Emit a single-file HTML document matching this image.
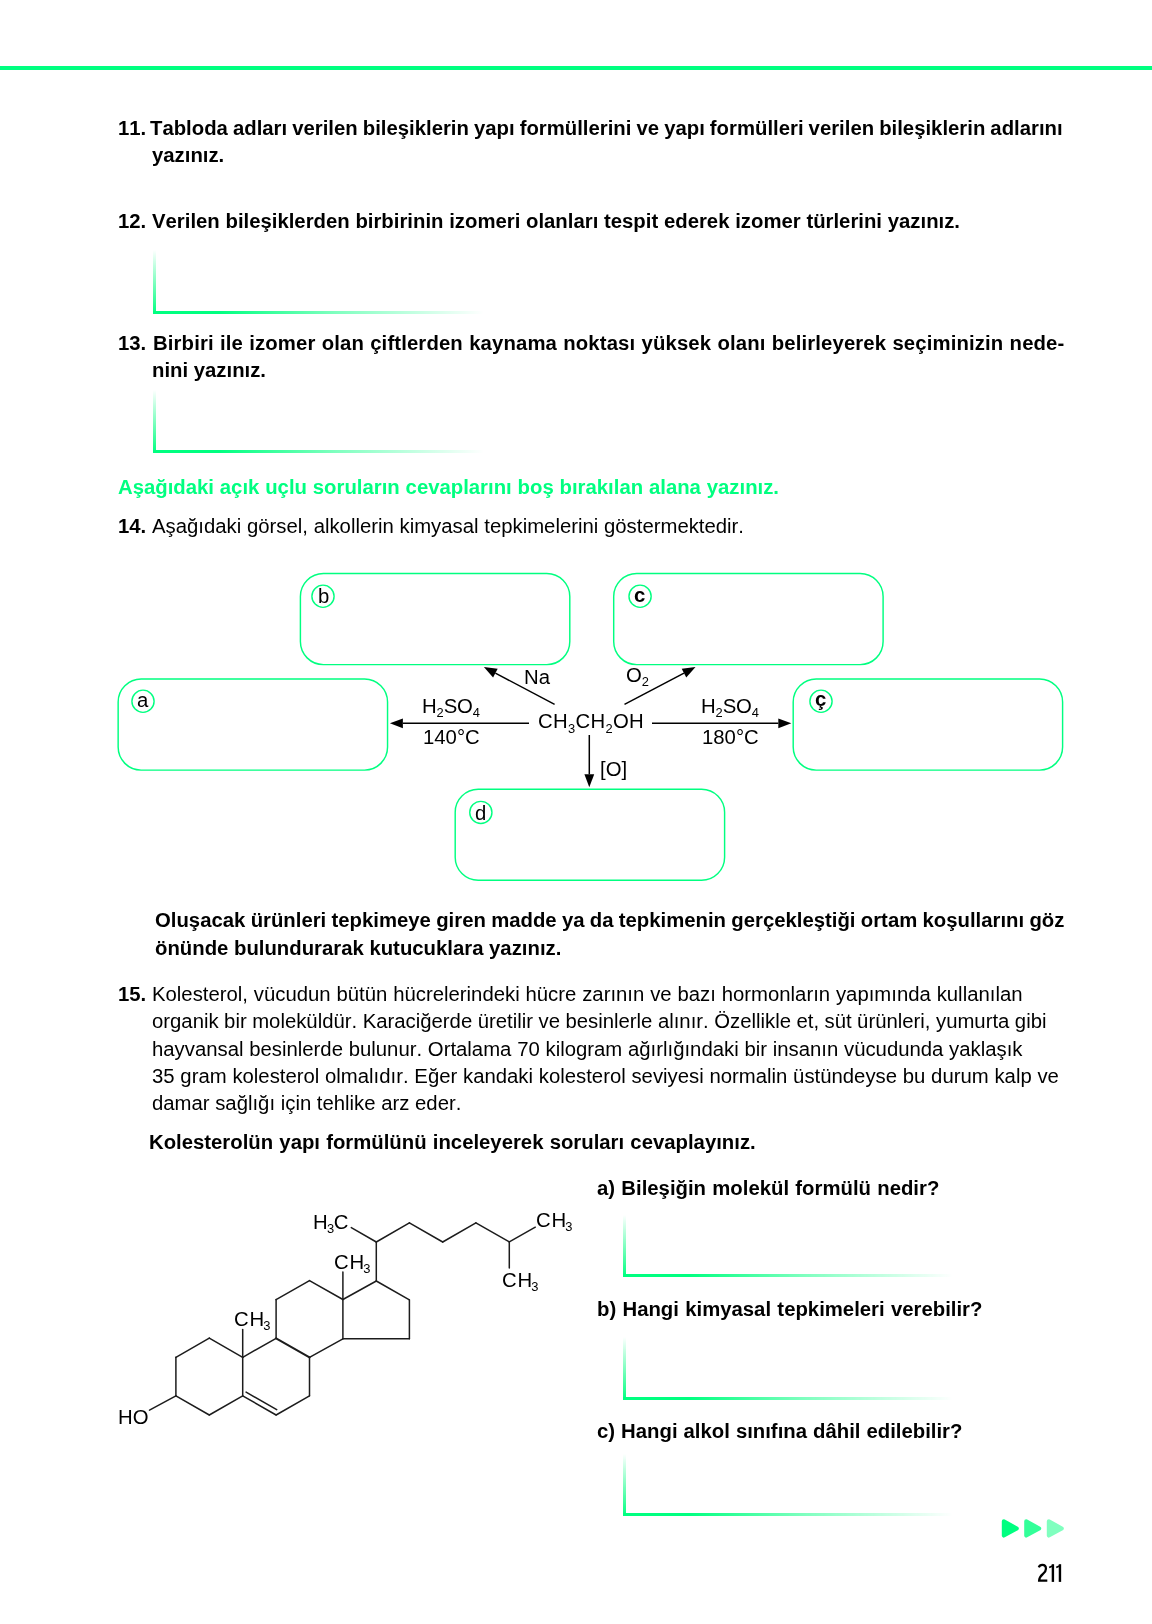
<!DOCTYPE html>
<html><head><meta charset="utf-8"><title>211</title>
<style>
html,body{margin:0;padding:0;background:#fff;}
body{font-kerning:none;width:1152px;height:1624px;position:relative;overflow:hidden;font-family:"Liberation Sans",sans-serif;color:#000;}
.t{position:absolute;white-space:nowrap;line-height:24px;will-change:transform;}
.ab{position:absolute;}
svg{position:absolute;left:0;top:0;}
</style></head><body>
<div class="ab" style="left:0;top:66px;width:1152px;height:4px;background:#00ff80"></div>
<div class="t" style="left:117.90px;top:116px;font-size:20.32px;font-weight:bold;">11.</div>
<div class="t" style="left:150.00px;top:116px;font-size:20.32px;font-weight:bold;word-spacing:-0.573px;">Tabloda adları verilen bileşiklerin yapı formüllerini ve yapı formülleri verilen bileşiklerin adlarını</div>
<div class="t" style="left:151.90px;top:143px;font-size:20.32px;font-weight:bold;">yazınız.</div>
<div class="t" style="left:117.90px;top:209px;font-size:20.32px;font-weight:bold;">12.</div>
<div class="t" style="left:152.30px;top:209px;font-size:20.32px;font-weight:bold;word-spacing:0.099px;">Verilen bileşiklerden birbirinin izomeri olanları tespit ederek izomer türlerini yazınız.</div>
<div class="t" style="left:117.90px;top:331px;font-size:20.32px;font-weight:bold;">13.</div>
<div class="t" style="left:153.30px;top:331px;font-size:20.32px;font-weight:bold;letter-spacing:0.13px;word-spacing:0.465px;">Birbiri ile izomer olan çiftlerden kaynama noktası yüksek olanı belirleyerek seçiminizin nede-</div>
<div class="t" style="left:151.90px;top:358px;font-size:20.32px;font-weight:bold;">nini yazınız.</div>
<div class="ab" style="left:153px;top:250px;width:3px;height:64px;background:linear-gradient(to top,#00ff80 0%,rgba(0,255,128,0.55) 45%,rgba(0,255,128,0) 100%)"></div>
<div class="ab" style="left:153px;top:310.5px;width:331px;height:3.5px;background:linear-gradient(to right,#00ff80 0%,#00ff80 20%,rgba(0,255,128,0.5) 55%,rgba(0,255,128,0) 100%)"></div>
<div class="ab" style="left:153px;top:390px;width:3px;height:63px;background:linear-gradient(to top,#00ff80 0%,rgba(0,255,128,0.55) 45%,rgba(0,255,128,0) 100%)"></div>
<div class="ab" style="left:153px;top:449.5px;width:331px;height:3.5px;background:linear-gradient(to right,#00ff80 0%,#00ff80 20%,rgba(0,255,128,0.5) 55%,rgba(0,255,128,0) 100%)"></div>
<div class="t" style="left:118.00px;top:475px;font-size:20.32px;font-weight:bold;color:#00ff80;word-spacing:0.213px;">Aşağıdaki açık uçlu soruların cevaplarını boş bırakılan alana yazınız.</div>
<div class="t" style="left:117.90px;top:514px;font-size:20.32px;font-weight:bold;">14.</div>
<div class="t" style="left:152.20px;top:514px;font-size:20.32px;word-spacing:0.087px;">Aşağıdaki görsel, alkollerin kimyasal tepkimelerini göstermektedir.</div>
<svg width="1152" height="1624" viewBox="0 0 1152 1624">
<rect x="118.15" y="679.0" width="269.4" height="91.1" rx="23" ry="23" fill="none" stroke="#00ff80" stroke-width="1.45"/>
<rect x="300.4" y="573.5" width="269.4" height="91.1" rx="23" ry="23" fill="none" stroke="#00ff80" stroke-width="1.45"/>
<rect x="613.7" y="573.5" width="269.4" height="91.1" rx="23" ry="23" fill="none" stroke="#00ff80" stroke-width="1.45"/>
<rect x="793.2" y="679.0" width="269.4" height="91.1" rx="23" ry="23" fill="none" stroke="#00ff80" stroke-width="1.45"/>
<rect x="455.2" y="789.2" width="269.4" height="91.1" rx="23" ry="23" fill="none" stroke="#00ff80" stroke-width="1.45"/>
<circle cx="143.0" cy="701.25" r="11.1" fill="none" stroke="#00ff80" stroke-width="1.4"/>
<circle cx="323.0" cy="596.25" r="11.1" fill="none" stroke="#00ff80" stroke-width="1.4"/>
<circle cx="640.07" cy="596.25" r="11.1" fill="none" stroke="#00ff80" stroke-width="1.4"/>
<circle cx="821.0" cy="701.25" r="11.1" fill="none" stroke="#00ff80" stroke-width="1.4"/>
<circle cx="480.85" cy="812.45" r="11.1" fill="none" stroke="#00ff80" stroke-width="1.4"/>
<line x1="529.00" y1="723.30" x2="402.90" y2="723.30" stroke="#000" stroke-width="1.5"/>
<polygon points="389.90,723.30 402.90,718.40 402.90,728.20" fill="#000"/>
<line x1="652.00" y1="723.30" x2="778.30" y2="723.30" stroke="#000" stroke-width="1.5"/>
<polygon points="791.30,723.30 778.30,728.20 778.30,718.40" fill="#000"/>
<line x1="589.30" y1="735.00" x2="589.30" y2="774.30" stroke="#000" stroke-width="1.5"/>
<polygon points="589.30,787.30 584.40,774.30 594.20,774.30" fill="#000"/>
<line x1="554.60" y1="704.40" x2="495.39" y2="673.08" stroke="#000" stroke-width="1.5"/>
<polygon points="483.90,667.00 497.68,668.75 493.10,677.41" fill="#000"/>
<line x1="624.50" y1="704.40" x2="684.00" y2="673.06" stroke="#000" stroke-width="1.5"/>
<polygon points="695.50,667.00 686.28,677.39 681.71,668.72" fill="#000"/>
</svg>
<div class="t" style="left:537.80px;top:709px;font-size:20.32px;letter-spacing:0.3px;">CH<span style="font-size:12.9px;position:relative;top:4.9px;line-height:0;">3</span>CH<span style="font-size:12.9px;position:relative;top:4.9px;line-height:0;">2</span>OH</div>
<div class="t" style="left:422.40px;top:694px;font-size:20.32px;letter-spacing:-0.1px;">H<span style="font-size:12.9px;position:relative;top:4.3px;line-height:0;">2</span>SO<span style="font-size:12.9px;position:relative;top:4.3px;line-height:0;">4</span></div>
<div class="t" style="left:422.70px;top:725px;font-size:20.32px;">140°C</div>
<div class="t" style="left:701.20px;top:694px;font-size:20.32px;letter-spacing:-0.1px;">H<span style="font-size:12.9px;position:relative;top:4.3px;line-height:0;">2</span>SO<span style="font-size:12.9px;position:relative;top:4.3px;line-height:0;">4</span></div>
<div class="t" style="left:701.50px;top:725px;font-size:20.32px;">180°C</div>
<div class="t" style="left:523.90px;top:665px;font-size:20.32px;">Na</div>
<div class="t" style="left:625.80px;top:663px;font-size:20.32px;">O<span style="font-size:12.9px;position:relative;top:4.3px;line-height:0;">2</span></div>
<div class="t" style="left:599.80px;top:757px;font-size:20.32px;">[O]</div>
<div class="t" style="left:137.20px;top:688px;font-size:20.32px;">a</div>
<div class="t" style="left:317.70px;top:584px;font-size:20.32px;">b</div>
<div class="t" style="left:634.40px;top:583px;font-size:20.32px;font-weight:bold;">c</div>
<div class="t" style="left:814.90px;top:687px;font-size:20.32px;font-weight:bold;">ç</div>
<div class="t" style="left:474.80px;top:801px;font-size:20.32px;">d</div>
<div class="t" style="left:154.80px;top:908px;font-size:20.32px;font-weight:bold;word-spacing:-0.350px;">Oluşacak ürünleri tepkimeye giren madde ya da tepkimenin gerçekleştiği ortam koşullarını göz</div>
<div class="t" style="left:154.80px;top:936px;font-size:20.32px;font-weight:bold;">önünde bulundurarak kutucuklara yazınız.</div>
<div class="t" style="left:117.90px;top:982px;font-size:20.32px;font-weight:bold;">15.</div>
<div class="t" style="left:152.10px;top:982px;font-size:20.32px;word-spacing:0.219px;">Kolesterol, vücudun bütün hücrelerindeki hücre zarının ve bazı hormonların yapımında kullanılan</div>
<div class="t" style="left:152.10px;top:1009px;font-size:20.32px;word-spacing:-0.147px;">organik bir moleküldür. Karaciğerde üretilir ve besinlerle alınır. Özellikle et, süt ürünleri, yumurta gibi</div>
<div class="t" style="left:152.10px;top:1037px;font-size:20.32px;word-spacing:0.108px;">hayvansal besinlerde bulunur. Ortalama 70 kilogram ağırlığındaki bir insanın vücudunda yaklaşık</div>
<div class="t" style="left:152.10px;top:1064px;font-size:20.32px;word-spacing:0.109px;">35 gram kolesterol olmalıdır. Eğer kandaki kolesterol seviyesi normalin üstündeyse bu durum kalp ve</div>
<div class="t" style="left:152.10px;top:1091px;font-size:20.32px;">damar sağlığı için tehlike arz eder.</div>
<div class="t" style="left:148.60px;top:1130px;font-size:20.32px;font-weight:bold;word-spacing:0.552px;">Kolesterolün yapı formülünü inceleyerek soruları cevaplayınız.</div>
<div class="t" style="left:596.90px;top:1176px;font-size:20.32px;font-weight:bold;word-spacing:0.645px;">a) Bileşiğin molekül formülü nedir?</div>
<div class="t" style="left:596.90px;top:1297px;font-size:20.32px;font-weight:bold;word-spacing:0.670px;">b) Hangi kimyasal tepkimeleri verebilir?</div>
<div class="t" style="left:596.90px;top:1419px;font-size:20.32px;font-weight:bold;word-spacing:0.392px;">c) Hangi alkol sınıfına dâhil edilebilir?</div>
<svg width="1152" height="1624" viewBox="0 0 1152 1624">
<g stroke="#1c1c1c" stroke-width="1.5" stroke-linecap="round" fill="none">
<line x1="175.90" y1="1357.30" x2="209.30" y2="1338.10"/>
<line x1="209.30" y1="1338.10" x2="242.70" y2="1357.30"/>
<line x1="242.70" y1="1357.30" x2="242.70" y2="1395.80"/>
<line x1="242.70" y1="1395.80" x2="209.30" y2="1415.00"/>
<line x1="209.30" y1="1415.00" x2="175.90" y2="1395.80"/>
<line x1="175.90" y1="1395.80" x2="175.90" y2="1357.30"/>
<line x1="175.90" y1="1395.80" x2="149.50" y2="1410.10"/>
<line x1="242.70" y1="1357.30" x2="276.10" y2="1338.30"/>
<line x1="309.50" y1="1357.30" x2="309.50" y2="1395.80"/>
<line x1="309.50" y1="1395.80" x2="276.10" y2="1415.00"/>
<line x1="276.10" y1="1415.00" x2="242.70" y2="1395.80"/>
<line x1="276.10" y1="1338.30" x2="276.10" y2="1299.60"/>
<line x1="276.10" y1="1299.60" x2="309.50" y2="1280.60"/>
<line x1="309.50" y1="1280.60" x2="342.90" y2="1299.50"/>
<line x1="342.90" y1="1299.50" x2="342.90" y2="1338.80"/>
<line x1="342.90" y1="1338.80" x2="309.50" y2="1357.30"/>
<line x1="342.90" y1="1299.50" x2="376.30" y2="1281.00"/>
<line x1="376.30" y1="1281.00" x2="409.40" y2="1299.90"/>
<line x1="409.40" y1="1299.90" x2="409.40" y2="1338.80"/>
<line x1="409.40" y1="1338.80" x2="342.90" y2="1338.80"/>
<line x1="376.30" y1="1281.00" x2="376.30" y2="1242.00"/>
<line x1="376.30" y1="1242.00" x2="351.30" y2="1227.60"/>
<line x1="376.30" y1="1242.00" x2="409.40" y2="1222.80"/>
<line x1="409.40" y1="1222.80" x2="442.70" y2="1242.00"/>
<line x1="442.70" y1="1242.00" x2="475.90" y2="1222.80"/>
<line x1="475.90" y1="1222.80" x2="509.30" y2="1241.80"/>
<line x1="509.30" y1="1241.80" x2="535.30" y2="1227.20"/>
<line x1="509.30" y1="1241.80" x2="509.30" y2="1268.10"/>
<line x1="242.70" y1="1357.30" x2="242.70" y2="1329.50"/>
<line x1="342.90" y1="1299.50" x2="342.90" y2="1272.00"/>
<line x1="276.10" y1="1338.30" x2="309.50" y2="1357.30" stroke-width="2.1"/>
<line x1="246.1" y1="1392.1" x2="276.7" y2="1409.7"/>
</g></svg>
<div class="t" style="left:313.40px;top:1210px;font-size:20.32px;">H<span style="font-size:12.9px;position:relative;top:4.3px;line-height:0;margin-left:-0.8px;margin-right:-0.3px;">3</span>C</div>
<div class="t" style="left:333.90px;top:1250px;font-size:20.32px;"><span style="letter-spacing:0.85px">C</span>H<span style="font-size:12.9px;position:relative;top:4.3px;line-height:0;margin-left:-1.0px;">3</span></div>
<div class="t" style="left:536.30px;top:1208px;font-size:20.32px;"><span style="letter-spacing:0.85px">C</span>H<span style="font-size:12.9px;position:relative;top:4.3px;line-height:0;margin-left:-1.0px;">3</span></div>
<div class="t" style="left:502.00px;top:1268px;font-size:20.32px;"><span style="letter-spacing:0.85px">C</span>H<span style="font-size:12.9px;position:relative;top:4.3px;line-height:0;margin-left:-1.0px;">3</span></div>
<div class="t" style="left:233.60px;top:1307px;font-size:20.32px;"><span style="letter-spacing:0.85px">C</span>H<span style="font-size:12.9px;position:relative;top:4.3px;line-height:0;margin-left:-1.0px;">3</span></div>
<div class="t" style="left:117.90px;top:1405px;font-size:20.32px;">HO</div>
<div class="ab" style="left:623px;top:1215px;width:3px;height:62px;background:linear-gradient(to top,#00ff80 0%,rgba(0,255,128,0.55) 45%,rgba(0,255,128,0) 100%)"></div>
<div class="ab" style="left:623px;top:1273.5px;width:330px;height:3.5px;background:linear-gradient(to right,#00ff80 0%,#00ff80 20%,rgba(0,255,128,0.5) 55%,rgba(0,255,128,0) 100%)"></div>
<div class="ab" style="left:623px;top:1337px;width:3px;height:63px;background:linear-gradient(to top,#00ff80 0%,rgba(0,255,128,0.55) 45%,rgba(0,255,128,0) 100%)"></div>
<div class="ab" style="left:623px;top:1396.5px;width:330px;height:3.5px;background:linear-gradient(to right,#00ff80 0%,#00ff80 20%,rgba(0,255,128,0.5) 55%,rgba(0,255,128,0) 100%)"></div>
<div class="ab" style="left:623px;top:1454px;width:3px;height:62px;background:linear-gradient(to top,#00ff80 0%,rgba(0,255,128,0.55) 45%,rgba(0,255,128,0) 100%)"></div>
<div class="ab" style="left:623px;top:1512.5px;width:330px;height:3.5px;background:linear-gradient(to right,#00ff80 0%,#00ff80 20%,rgba(0,255,128,0.5) 55%,rgba(0,255,128,0) 100%)"></div>
<svg width="1152" height="1624" viewBox="0 0 1152 1624">
<path d="M1003.8,1521.3 L1016.8,1528.45 L1003.8,1535.6 Z" fill="#00ff80" stroke="#00ff80" stroke-width="4" stroke-linejoin="round"/>
<path d="M1026.2,1521.3 L1039.2,1528.45 L1026.2,1535.6 Z" fill="#33ff99" stroke="#33ff99" stroke-width="4" stroke-linejoin="round"/>
<path d="M1048.8,1521.3 L1061.8,1528.45 L1048.8,1535.6 Z" fill="#80ffbf" stroke="#80ffbf" stroke-width="4" stroke-linejoin="round"/>
</svg>
<svg width="1152" height="1624" viewBox="0 0 1152 1624"><g fill="none" stroke="#000">
<path d="M1038.8,1567.3 C1039.4,1565.7 1040.8,1564.95 1042.3,1564.95 C1044.6,1564.95 1045.95,1566.5 1045.95,1568.8 C1045.95,1571.0 1044.8,1572.5 1043.0,1573.9 C1040.6,1576.0 1039.15,1578.0 1039.1,1580.7 L1047.3,1580.7" stroke-width="2.25" stroke-linejoin="miter"/>
<path d="M1052.9,1564.2 L1052.9,1581.9" stroke-width="2.4"/>
<path d="M1049.2,1567.5 L1052.3000000000002,1565.9" stroke-width="1.7"/>
<path d="M1059.95,1564.2 L1059.95,1581.9" stroke-width="2.4"/>
<path d="M1056.25,1567.5 L1059.3500000000001,1565.9" stroke-width="1.7"/>
</g></svg>
</body></html>
